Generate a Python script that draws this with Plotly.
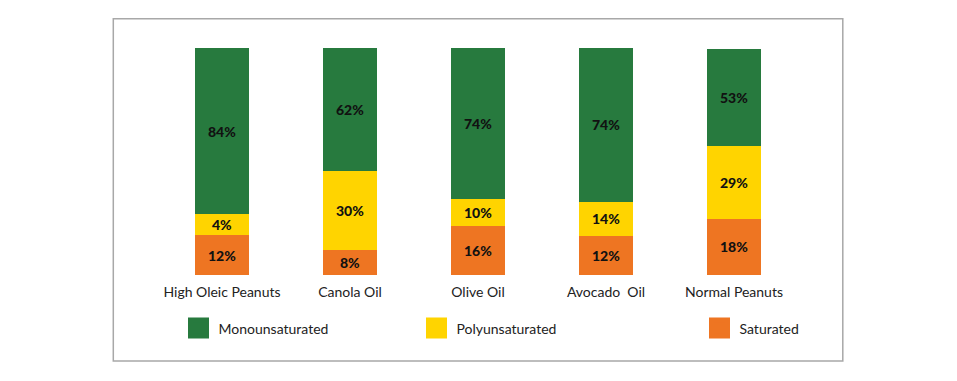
import plotly.graph_objects as go

categories = ["High Oleic Peanuts", "Canola Oil", "Olive Oil", "Avocado  Oil", "Normal Peanuts"]
series_names = ["Saturated", "Polyunsaturated", "Monounsaturated"]

# labelled percentages (as printed on the bars)
saturated_labels = [12, 8, 16, 12, 18]
poly_labels = [4, 30, 10, 14, 29]
mono_labels = [84, 62, 74, 74, 53]

# segment heights as drawn in the picture (percent of the full bar height)
saturated_drawn = [17.5, 11.0, 21.7, 17.3, 24.8]
poly_drawn = [9.2, 34.8, 11.7, 15.0, 32.2]
mono_drawn = [73.3, 54.2, 66.6, 67.7, 42.7]

colors = {"Monounsaturated": "#277A3E", "Polyunsaturated": "#FFD400", "Saturated": "#EE7522"}

FONT = "Lato"
OFF = 8  # default page body margin
WIN_W, WIN_H = 957, 381
W, H = WIN_W - 2 * OFF, WIN_H - 2 * OFF

fig = go.Figure()
for name, drawn, labels in [("Saturated", saturated_drawn, saturated_labels),
                            ("Polyunsaturated", poly_drawn, poly_labels),
                            ("Monounsaturated", mono_drawn, mono_labels)]:
    fig.add_trace(go.Bar(
        x=categories, y=drawn, name=name,
        marker=dict(color=colors[name], line=dict(width=0)),
        text=[f"{v}%" for v in labels], textposition="inside",
        insidetextanchor="middle", textangle=0, constraintext="none",
        textfont=dict(family=FONT, size=14, color="#111111", weight=900),
        showlegend=False, hoverinfo="skip",
    ))

legend_names = ["Monounsaturated", "Polyunsaturated", "Saturated"]
legend_keys = ["legend", "legend2", "legend3"]
legend_x = [178.5, 416.5, 699.5]
for name, key in zip(legend_names, legend_keys):
    fig.add_trace(go.Scatter(
        x=[None], y=[None], mode="markers", name=name, legend=key,
        marker=dict(symbol="square", size=16, color=colors[name],
                    line=dict(width=5, color=colors[name])),
        showlegend=True,
    ))

legend_common = dict(xref="container", yref="container", y=1 - (328.5 - OFF) / H,
                     yanchor="middle", xanchor="left", orientation="h",
                     bgcolor="rgba(0,0,0,0)", borderwidth=0,
                     font=dict(family=FONT, size=14, color="#222222"))
layout_legends = {}
for key, lx in zip(legend_keys, legend_x):
    layout_legends[key] = dict(x=(lx - OFF) / W, **legend_common)

# plot area in window pixels
x0_px, x1_px = 158.2, 798.2
y_top_px, y_bot_px = 47.7, 275.0
pw = x1_px - x0_px
ph = y_bot_px - y_top_px

def px_to_paper_x(px):
    return (px - x0_px) / pw

def px_to_paper_y(py):
    return (y_bot_px - py) / ph

fig.update_layout(
    width=W, height=H,
    margin=dict(l=x0_px - OFF, r=(OFF + W) - x1_px, t=y_top_px - OFF,
                b=(OFF + H) - y_bot_px, autoexpand=False),
    barmode="stack", bargap=0.58,
    paper_bgcolor="white", plot_bgcolor="white",
    font=dict(family=FONT, size=14, color="#222222"),
    xaxis=dict(showgrid=False, showline=False, zeroline=False, ticks="",
               ticklabelstandoff=7,
               tickfont=dict(family=FONT, size=14, color="#222222"), fixedrange=True),
    yaxis=dict(range=[0, 100], visible=False, fixedrange=True),
    shapes=[dict(type="rect", xref="paper", yref="paper",
                 x0=px_to_paper_x(113.5), x1=px_to_paper_x(843),
                 y0=px_to_paper_y(361), y1=px_to_paper_y(18.5),
                 line=dict(color="#A8A8A8", width=1.5), fillcolor="rgba(0,0,0,0)",
                 layer="below")],
    **layout_legends,
)

fig.write_html("out.html")
